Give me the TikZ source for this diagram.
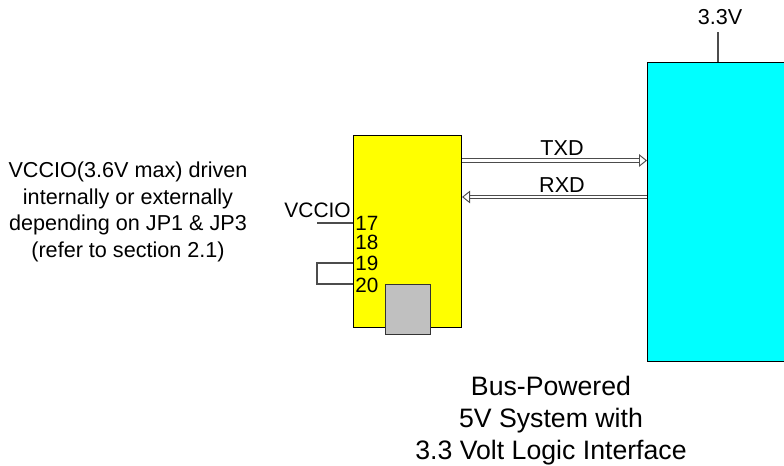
\documentclass[tikz,border=0pt]{standalone}
\usepackage{fontspec}
\setmainfont{Liberation Sans}
\usetikzlibrary{arrows.meta}
\definecolor{chipyellow}{RGB}{255,255,0}
\definecolor{logiccyan}{RGB}{0,255,255}
\definecolor{usbgrey}{RGB}{192,192,192}
\tikzset{
  linelab/.style={font=\fontsize{16.2}{20}\selectfont, inner sep=0pt, align=center},
  pinlab/.style={font=\fontsize{15.5}{15}\selectfont, inner sep=0pt, anchor=west},
  wire/.style={draw=black!70, line width=.8pt},
  bus/.style={double=white, draw=black!70, line width=.7pt, double distance=2.2pt, -{Triangle[open,fill=white,length=6pt,width=9.5pt]}},
}
\begin{document}
\begin{tikzpicture}[x=.75pt, y=-.75pt]
        \useasboundingbox (0,0) rectangle (784,466);
        \node[draw=black, fill=chipyellow, line width=.8pt, minimum width=81pt, minimum height=144pt, inner sep=0pt, anchor=north west] (chip) at (353,135) {};
        \node[draw=black, fill=logiccyan, line width=.8pt, minimum width=110pt, minimum height=224pt, inner sep=0pt, anchor=north west] (logic) at (647,62) {};
        \node[draw=black!80, fill=usbgrey, line width=.7pt, minimum width=33.75pt, minimum height=37.5pt, inner sep=0pt, anchor=north west] (usb) at (385,284) {};
        % pins of the yellow block
        \node[pinlab] (p17) at (355,223) {17};
        \node[pinlab] (p18) at (355,242) {18};
        \node[pinlab] (p19) at (355,263) {19};
        \node[pinlab] (p20) at (355,285) {20};
        \node[linelab, anchor=south east, font=\fontsize{15.7}{20}\selectfont] (vccio) at (351,218) {VCCIO};
        \coordinate (vend) at (317,223);
        \coordinate (jleft) at (317,263);
        \draw[wire] (vend) -- (vend -| chip.west);
        \draw[wire] (chip.west |- jleft) -- (jleft) -- (317,284) -- (chip.west |- 0,284);
        % supply
        \node[linelab] (vdd) at (720,17) {3.3V};
        \draw[wire] (718,62) -- (718,32);
        % serial lines
        \coordinate (txa) at (chip.east |- 0,160.5);
        \coordinate (txb) at (logic.west |- 0,160.5);
        \coordinate (rxa) at (logic.west |- 0,197);
        \coordinate (rxb) at (chip.east |- 0,197);
        \draw[bus] (txa) -- (txb);
        \draw[bus] (rxa) -- (rxb);
        \node[linelab] (txd) at (562,148) {TXD};
        \node[linelab] (rxd) at (562,185) {RXD};
        % notes
        \node[linelab] (note) at (128,212) {VCCIO(3.6V max) driven\\internally or externally\\depending on JP1 \& JP3\\(refer to section 2.1)};
        \node[font=\fontsize{20}{24}\selectfont, align=center, inner sep=0pt] (title) at (551,421) {Bus-Powered\\5V System with\\3.3 Volt Logic Interface};
      \end{tikzpicture}
\end{document}
